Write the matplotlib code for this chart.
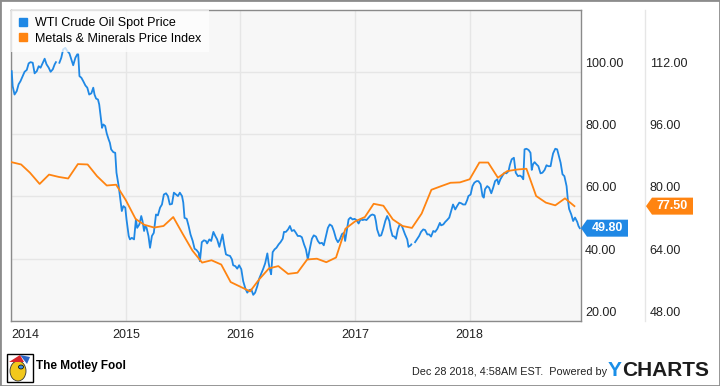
import numpy as np
import pandas as pd
import matplotlib
matplotlib.use('Agg')
import matplotlib.pyplot as plt
from matplotlib.transforms import ScaledTranslation, IdentityTransform
from matplotlib.patches import Polygon, Rectangle, Ellipse
from matplotlib.lines import Line2D
from matplotlib.text import Annotation

plt.rcParams['font.family'] = ['Liberation Sans', 'DejaVu Sans']

# ---------------- data ----------------
series_names = ['WTI Crude Oil Spot Price', 'Metals & Minerals Price Index']
start_date = '2014-01-01'

# WTI: days after 2014-01-01 and price (NaN = gap in the source line)
wti_days = [1, 4, 10, 17, 23, 29, 36, 42, 49, 55, 61, 68, 74, 81, 87, 93, 100, 106, 112, 119,
            125, 132, 138, 142, 147, 153, 159, 165, 172, 178, 185, 191, 197, 204, 210, 213, 217,
            223, 229, 236, 242, 248, 255, 261, 265, 270, 276, 280, 285, 289, 293, 299, 304, 310,
            314, 318, 325, 331, 335, 342, 346, 352, 357, 363, 367, 374, 378, 384, 391, 397, 401,
            408, 414, 418, 423, 427, 431, 437, 442,
            448, 454, 461, 467, 474, 480, 486, 493, 499, 505, 512, 518, 525, 531, 537, 544, 548,
            552, 559, 565, 571, 578, 584, 590, 597, 601, 607, 614, 620, 624, 631, 637, 644, 650,
            656, 663, 669, 673, 678, 684, 690, 697, 703, 707, 714, 720, 726, 733, 739, 746, 752,
            758, 765, 771, 777, 784, 790, 797, 803, 809, 816, 820, 824, 828, 833, 839, 845, 852,
            858, 865, 869, 875, 882, 888, 894, 901, 907, 913,
            920, 926, 933, 939, 945, 952, 958, 964, 971, 977, 983, 990, 996, 1003, 1009, 1015,
            1022, 1028, 1035, 1041, 1047, 1054, 1060, 1064, 1069, 1075, 1081, 1088, 1094, 1100,
            1107, 1113, 1120, 1126, 1132, 1139, 1145, 1151, 1158, 1162, 1166, 1173, 1179, 1185,
            1192, 1198, 1205, 1209, 1215, 1221, 1226, 1232, 1238, 1245, 1249, 1255, 1262, 1266,
            1273, 1275, 1281, 1287, 1294, 1300, 1306, 1313, 1319, 1326, 1332, 1338, 1345, 1351,
            1358, 1366,
            1370, 1377, 1383, 1389, 1396, 1402, 1408, 1415, 1421, 1428, 1434, 1440, 1447, 1453,
            1457, 1464, 1470, 1476, 1483, 1489, 1496, 1502, 1506, 1510, 1517, 1523, 1530, 1536,
            1542, 1549, 1553, 1559, 1566, 1572, 1578, 1585, 1589, 1595, 1602, 1608, 1615, 1621,
            1627, 1632, 1636, 1642, 1649, 1655, 1659, 1663, 1668, 1674, 1680, 1687, 1693, 1700,
            1706, 1712, 1719, 1723, 1727, 1734, 1740, 1744, 1751, 1757, 1763, 1770, 1774, 1778,
            1785, 1791, 1797, 1804, 1808, 1812]
wti_vals = [100.2, 95.4, 92.7, 93.8, 96.0, 97.0, 98.6, 100.0, 100.6, 102.7, 103.1, 102.9, 99.5,
            100.2, 101.8, 101.3, 102.9, 104.2, 102.4, 101.3, 100.0, 100.8, 102.4, 103.1, np.nan,
            102.9, 104.5, 107.2, 107.7, 106.7, 105.9, 104.0, 102.1, 104.5, 105.6, 105.6, 98.6,
            98.1, 97.0, 95.6, 94.9, 92.7, 93.1, 94.9, 92.7, 91.4, 91.1, 89.5, 85.3, 82.0, 83.1,
            82.6, 80.2, 78.3, 77.2, 75.1, 74.2, 74.0, 67.6, 63.3, 60.1, 55.3, 56.9, 56.4, 52.6,
            47.3, 46.2, 46.7, 46.2, 52.6, 49.9, 51.0, 53.7, 52.1, 48.9, 50.5, 49.9, 47.3, 43.5,
            47.3, 48.3, 54.2, 53.9, 56.4, 57.4, 60.6, 61.0, 60.1, 57.4, 57.6, 61.2, 60.6, 60.1,
            61.2, 60.1, 58.0, 53.1, 52.8, 50.5, 47.8, 45.7, 43.2, 42.8, 41.9, 39.2, 45.3, 45.9,
            45.7, 44.9, 46.2, 45.7, 48.6, 47.3, 46.2, 43.8, 46.2, 47.8, 44.6, 41.4, 41.1, 40.9,
            39.8, 37.9, 37.6, 36.8, 37.9, 36.6, 32.8, 30.4, 29.1, 29.9, 30.1, 28.4, 29.1, 31.2,
            33.6, 35.3, 36.8, 38.5, 41.7, 38.7, 36.6, 35.0, 42.1, 43.0, 43.5, 44.6, 45.3, 46.4,
            48.6, 48.6, 49.4, 50.5, 48.9, 49.2, 48.3, 47.3,
            47.3, 46.9, 44.6, 43.0, 39.8, 43.5, 46.4, 47.5, 47.1, 45.7, 44.9, 45.1, 44.3, 47.3,
            49.9, 51.0, 50.5, 48.9, 46.4, 45.3, 46.2, 47.9, 48.3, 45.7, 48.9, 52.6, 53.2, 52.6,
            52.8, 52.4, 51.3, 52.6, 52.4, 52.6, 52.4, 53.2, 53.9, 54.2, 53.9, 52.1, 49.4, 47.3,
            47.5, 49.4, 52.1, 53.7, 52.1, 49.6, 47.3, 47.1, 46.4, 49.4, 51.0, 50.5, 49.4, 47.8,
            46.2, 43.8, 44.3, 44.6, np.nan, 45.3, 46.4, 47.3, 48.6, 49.4, 49.2, 47.8, 47.8, 47.1,
            48.9, 48.6, 49.6, 51.5,
            50.7, 51.0, 51.8, 52.4, 53.2, 55.3, 57.4, 55.8, 56.9, 58.0, 57.8, 57.4, 57.4, 58.8,
            60.1, 60.6, 63.3, 64.4, 64.9, 64.9, 63.9, 60.1, 59.6, 62.3, 63.3, 62.8, 61.0, 62.8,
            64.9, 65.5, 63.9, 65.5, 66.7, 67.6, 67.4, 68.1, 70.0, 71.9, 72.4, 67.6, 66.5, 66.7,
            66.3, 65.5, 75.1, 75.3, 74.9, 74.0, 68.5, 70.3, 71.0, 70.3, 69.7, 67.4, 67.6, 68.5,
            70.0, 69.7, 69.7, 71.9, 73.8, 75.3, 75.1, 73.5, 70.8, 67.1, 66.5, 63.3, 59.0, 56.0,
            54.2, 52.1, 53.2, 51.8, 50.5, 49.8]

# Metals & Minerals Price Index, monthly from Jan 2014
metals_vals = [88.8, 88.2, 86.1, 83.2, 85.6, 85.0, 84.6, 88.3, 88.2, 85.2, 82.8, 83.0,
               79.0, 74.2, 72.7, 72.0, 72.4, 74.7, 70.4, 66.1, 63.0, 63.6, 62.5, 58.0,
               56.8, 55.6, 58.7, 61.5, 62.1, 60.1, 60.4, 63.8, 64.0, 63.1, 64.3, 71.7,
               73.6, 74.7, 78.1, 77.6, 74.1, 72.4, 71.9, 75.6, 81.7, 82.6, 83.5, 83.6,
               84.4, 88.7, 88.7, 84.8, 86.5, 86.9, 87.1, 80.1, 78.4, 77.7, 79.5, 77.5]

year_labels = ['2014', '2015', '2016', '2017', '2018']
left_ticks = [20, 40, 60, 80, 100]
right_ticks = [48, 64, 80, 96, 112]
left_lim = (20, 120)
right_lim = (48, 128)
x_end = '2018-12-22'
last_wti_label = '49.80'
last_metals_label = '77.50'
footer_date = 'Dec 28 2018, 4:58AM EST.  Powered by'

# ---------------- styling ----------------
BLUE = '#1f88e5'
ORANGE = '#ff8411'
GRID = '#e6e6e6'
FRAME = '#8a8a8a'
W, H, DPI = 720, 386, 100

fig = plt.figure(figsize=(W / DPI, H / DPI), dpi=DPI)
fig.patch.set_facecolor('white')

L, R, B, T = 11.4, 581, 321, 9.5
ax = fig.add_axes([L / W, 1 - B / H, (R - L) / W, (B - T) / H])
ax.set_facecolor('#f7f7f7')

wti_dates = pd.Timestamp(start_date) + pd.to_timedelta(wti_days, unit='D')
metals_dates = pd.date_range(start_date, periods=len(metals_vals), freq='MS')

ax.plot(wti_dates, wti_vals, color=BLUE, lw=1.3, solid_joinstyle='round', zorder=3)
ax.set_ylim(*left_lim)
ax.set_xlim(pd.Timestamp(start_date), pd.Timestamp(x_end))

ax2 = ax.twinx()
ax2.plot(metals_dates, metals_vals, color=ORANGE, lw=1.3, zorder=3)
ax2.set_ylim(*right_lim)

# ticks and grid
year_dates = [pd.Timestamp(y + '-01-01') for y in year_labels]
ax.set_xticks(year_dates)
ax.set_xticklabels(year_labels)
ax.set_yticks(left_ticks)
ax.set_yticklabels(['%.2f' % v for v in left_ticks])
ax2.set_yticks(right_ticks)
ax2.set_yticklabels(['%.2f' % v for v in right_ticks])

ax.grid(True, color=GRID, lw=1)
ax.set_axisbelow(True)
ax.yaxis.tick_right()
ax.tick_params(axis='y', length=0, pad=3, labelsize=9, labelcolor='#222222')
ax.tick_params(axis='x', length=0, pad=6, labelsize=9, labelcolor='#222222')
ax2.tick_params(axis='y', length=0, pad=3.5, labelsize=9, labelcolor='#222222')
ax.get_xticklabels()[0].set_horizontalalignment('left')

for s in ax.spines.values():
    s.set_color(FRAME)
    s.set_linewidth(1)
for k in ['left', 'top', 'bottom']:
    ax2.spines[k].set_visible(False)
ax2.spines['right'].set_position(('axes', (645 - L) / (R - L)))
ax2.spines['right'].set_color(GRID)
ax2.spines['right'].set_linewidth(1)

up = ScaledTranslation(0, 9.5 / DPI, fig.dpi_scale_trans)
for lab in ax.get_yticklabels() + ax2.get_yticklabels():
    lab.set_transform(lab.get_transform() + up)

# legend
handles = [Line2D([], [], marker='s', ls='none', color=BLUE, markersize=5.5),
           Line2D([], [], marker='s', ls='none', color=ORANGE, markersize=5.5)]
leg = ax.legend(handles, series_names, loc='upper left', bbox_to_anchor=(0, 1),
                borderaxespad=0, frameon=True, fancybox=False, fontsize=9,
                handlelength=0.6, handletextpad=0.7, labelspacing=0.3, borderpad=0.6)
leg.get_frame().set_facecolor('white')
leg.get_frame().set_edgecolor('none')
leg.get_frame().set_alpha(0.75)

# value badges at the right edge
def badge(axis, value, text, tip_x, x1, color):
    y = axis.transData.transform((0, value))[1]
    h = 8.5
    body_x0 = tip_x + 6
    pts = [(tip_x, y), (body_x0, y + h), (x1, y + h), (x1, y - h), (body_x0, y - h)]
    fig.add_artist(Polygon(pts, closed=True, transform=IdentityTransform(),
                           facecolor=color, edgecolor='none', zorder=10))
    fig.text((body_x0 + x1) / 2 / W, y / H, text, color='white', fontsize=9,
             fontweight='bold', ha='center', va='center', zorder=11)

badge(ax, wti_vals[-1], last_wti_label, 581, 628, BLUE)
badge(ax2, metals_vals[-1], last_metals_label, 646, 693, ORANGE)

# footer
fig.text(412 / W, 1 - 372 / H, footer_date, fontsize=7.8, color='#222222',
         ha='left', va='center')
ty = fig.text(608 / W, 1 - 370 / H, 'Y', fontsize=15, fontweight='bold',
              color='#1a8fe8', ha='left', va='center')
fig.add_artist(Annotation('CHARTS', xy=(1, 0.5), xycoords=ty,
                          va='center', ha='left', fontsize=15,
                          fontweight='bold', color='#1c1c1c'))

# Motley Fool mark
def px(x, y):
    return (x, H - y)
fig.add_artist(Rectangle(px(7, 382), 26, 28, transform=IdentityTransform(),
                         facecolor='white', edgecolor='black', lw=1, zorder=5))
fig.add_artist(Ellipse(px(18, 371), 16, 20, transform=IdentityTransform(),
                       facecolor='#f2c81c', edgecolor='#333333', lw=0.6, zorder=6))
fig.add_artist(Polygon([px(9, 362), px(20, 355), px(24, 362)], transform=IdentityTransform(),
                       facecolor='#d8252b', edgecolor='none', zorder=7))
fig.add_artist(Polygon([px(20, 355), px(30, 357), px(27, 364)], transform=IdentityTransform(),
                       facecolor='#2a63c5', edgecolor='none', zorder=7))
fig.add_artist(Ellipse(px(21, 367), 5, 4, transform=IdentityTransform(),
                       facecolor='#3a8ee0', edgecolor='black', lw=0.5, zorder=8))
fig.text(36 / W, 1 - 366 / H, 'The Motley Fool', fontsize=8.5, fontweight='bold',
         color='black', ha='left', va='center')

# outer border
fig.add_artist(Rectangle((0, 0), 1, 1, transform=fig.transFigure, fill=False,
                         edgecolor='#8c8c8c', lw=2, zorder=20))

fig.savefig('out.png', dpi=DPI)
